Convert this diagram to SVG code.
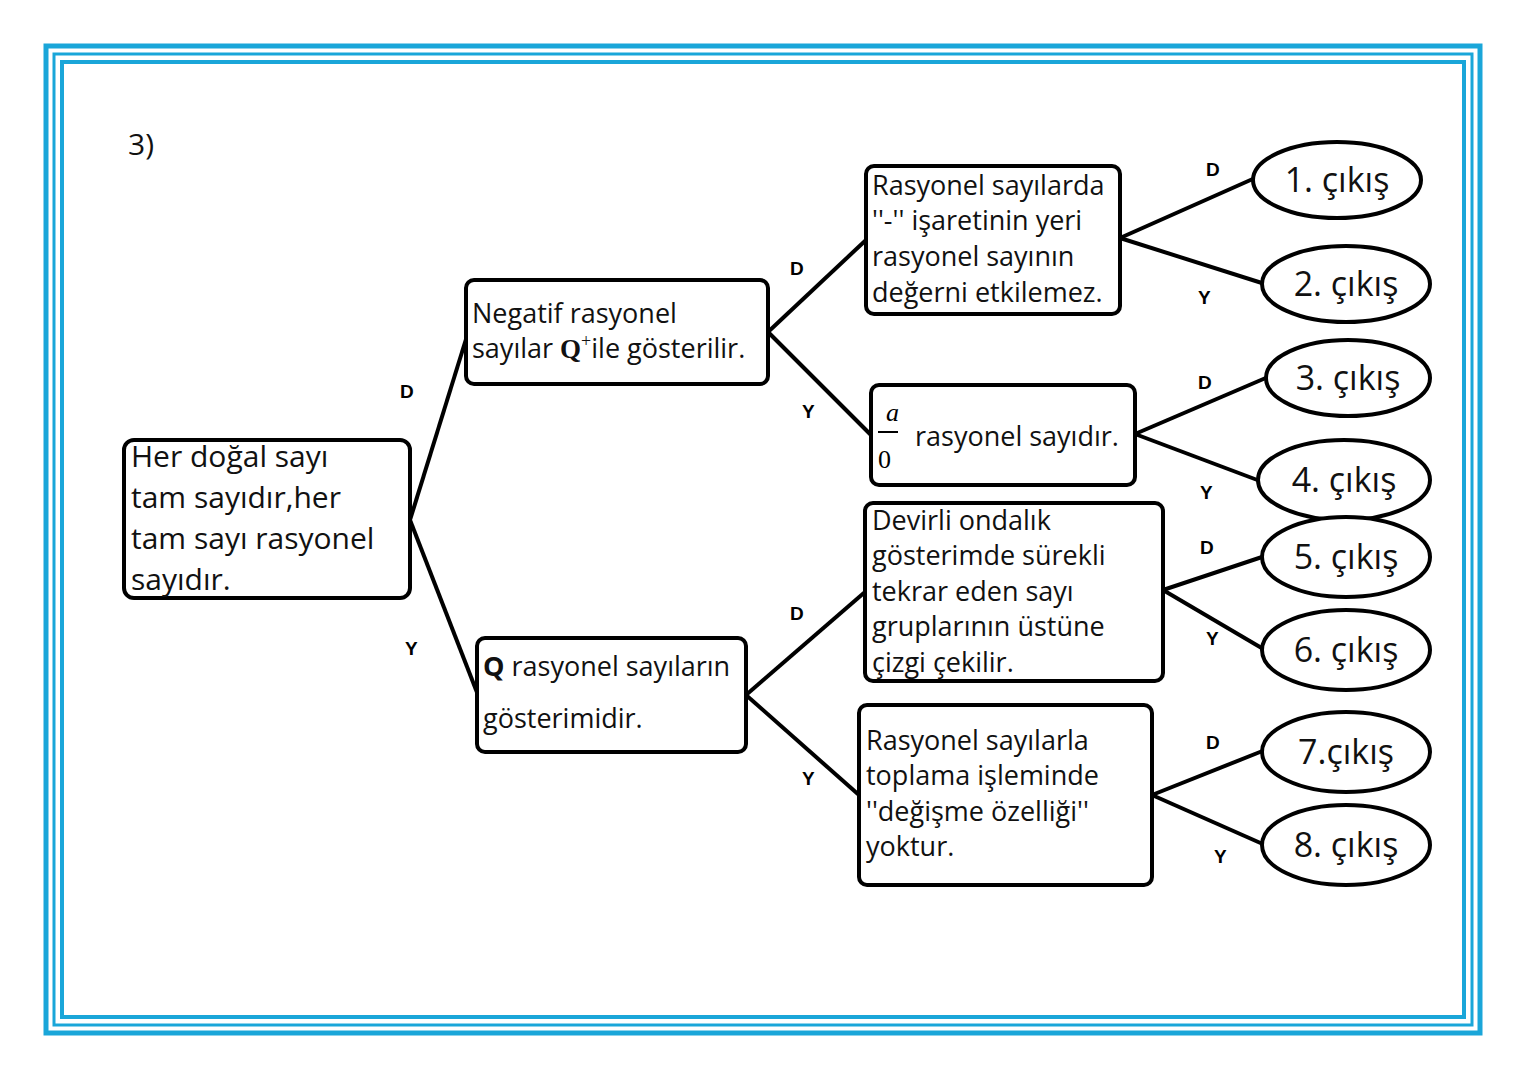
<svg xmlns="http://www.w3.org/2000/svg" width="1527" height="1080" viewBox="0 0 1527 1080">
<style>
.b{fill:none;stroke:#1aa6d9}
.n{fill:#fff;stroke:#000;stroke-width:4}
.t{font-family:"Open Sans","Liberation Sans",sans-serif;font-size:27px;fill:#111}
.o{font-family:"Open Sans","Liberation Sans",sans-serif;font-size:34px;fill:#111}
.l{font-family:"Liberation Sans",sans-serif;font-size:19px;font-weight:bold;fill:#000}
.c line{stroke:#000;stroke-width:4}
</style>
<rect width="1527" height="1080" fill="#fff"/>
<rect class="b" x="46" y="46" width="1434" height="987" stroke-width="5"/>
<rect class="b" x="54" y="54" width="1418" height="971" stroke-width="3"/>
<rect class="b" x="62" y="62" width="1402" height="955" stroke-width="4"/>
<text x="128" y="155" class="o" style="font-size:30px">3)</text>
<g class="c" id="connectors">
<line x1="410" y1="520" x2="467" y2="336"/>
<line x1="410" y1="520" x2="478" y2="695"/>
<line x1="768" y1="332" x2="866" y2="240"/>
<line x1="768" y1="332" x2="871" y2="435"/>
<line x1="746" y1="695" x2="865" y2="592"/>
<line x1="746" y1="695" x2="859" y2="795"/>
<line x1="1120" y1="238" x2="1255" y2="178"/>
<line x1="1120" y1="238" x2="1265" y2="284"/>
<line x1="1135" y1="434" x2="1268" y2="377"/>
<line x1="1135" y1="434" x2="1260" y2="481"/>
<line x1="1163" y1="590" x2="1265" y2="556"/>
<line x1="1163" y1="590" x2="1265" y2="650"/>
<line x1="1152" y1="795" x2="1265" y2="750"/>
<line x1="1152" y1="795" x2="1265" y2="845"/>
</g>
<g id="labels">
<text x="400" y="398" class="l">D</text><text x="405" y="655" class="l">Y</text>
<text x="790" y="275" class="l">D</text><text x="802" y="418" class="l">Y</text>
<text x="790" y="620" class="l">D</text><text x="802" y="785" class="l">Y</text>
<text x="1206" y="176" class="l">D</text><text x="1198" y="304" class="l">Y</text>
<text x="1198" y="389" class="l">D</text><text x="1200" y="499" class="l">Y</text>
<text x="1200" y="554" class="l">D</text><text x="1206" y="645" class="l">Y</text>
<text x="1206" y="749" class="l">D</text><text x="1214" y="863" class="l">Y</text>
</g>
<g id="root"><rect class="n" x="124" y="440" width="286" height="158" rx="10"/>
<text class="t" style="font-size:30px"><tspan x="131" y="467">Her doğal sayı</tspan><tspan x="131" y="508">tam sayıdır,her</tspan><tspan x="131" y="549">tam sayı rasyonel</tspan><tspan x="131" y="590">sayıdır.</tspan></text></g>
<g id="n1"><rect class="n" x="466" y="280" width="302" height="104" rx="8"/>
<text class="t"><tspan x="472" y="323">Negatif rasyonel</tspan><tspan x="472" y="358">sayılar <tspan font-family="Liberation Serif,serif" font-weight="bold">Q</tspan><tspan font-family="Liberation Serif,serif" font-size="18" dy="-11">+</tspan><tspan dy="11">ile gösterilir.</tspan></tspan></text></g>
<g id="n2"><rect class="n" x="477" y="638" width="269" height="114" rx="8"/>
<text class="t"><tspan x="483" y="676"><tspan font-weight="bold">Q</tspan> rasyonel sayıların</tspan><tspan x="483" y="728">gösterimidir.</tspan></text></g>
<g id="n3"><rect class="n" x="866" y="166" width="254" height="148" rx="8"/>
<text class="t"><tspan x="872" y="195">Rasyonel sayılarda</tspan><tspan x="872" y="230">''-'' işaretinin yeri</tspan><tspan x="872" y="266">rasyonel sayının</tspan><tspan x="872" y="302">değerni etkilemez.</tspan></text></g>
<g id="n4"><rect class="n" x="871" y="385" width="264" height="100" rx="8"/>
<text x="886" y="421" font-family="Liberation Serif,serif" font-style="italic" font-size="26">a</text>
<line x1="878" y1="432" x2="898" y2="432" stroke="#000" stroke-width="2"/>
<text x="878" y="468" font-family="Liberation Serif,serif" font-size="26">0</text>
<text x="915" y="446" class="t">rasyonel sayıdır.</text></g>
<g id="n5"><rect class="n" x="865" y="503" width="298" height="178" rx="8"/>
<text class="t"><tspan x="872" y="530">Devirli ondalık</tspan><tspan x="872" y="565">gösterimde sürekli</tspan><tspan x="872" y="601">tekrar eden sayı</tspan><tspan x="872" y="636">gruplarının üstüne</tspan><tspan x="872" y="672">çizgi çekilir.</tspan></text></g>
<g id="n6"><rect class="n" x="859" y="705" width="293" height="180" rx="8"/>
<text class="t"><tspan x="866" y="750">Rasyonel sayılarla</tspan><tspan x="866" y="785">toplama işleminde</tspan><tspan x="866" y="821">''değişme özelliği''</tspan><tspan x="866" y="856">yoktur.</tspan></text></g>
<g id="o1"><ellipse class="n" cx="1337" cy="180" rx="84" ry="38"/><text x="1337" y="192" class="o" text-anchor="middle">1. çıkış</text></g>
<g id="o2"><ellipse class="n" cx="1346" cy="284" rx="84" ry="38"/><text x="1346" y="296" class="o" text-anchor="middle">2. çıkış</text></g>
<g id="o3"><ellipse class="n" cx="1348" cy="378" rx="82" ry="38"/><text x="1348" y="390" class="o" text-anchor="middle">3. çıkış</text></g>
<g id="o4"><ellipse class="n" cx="1344" cy="480" rx="86" ry="40"/><text x="1344" y="492" class="o" text-anchor="middle">4. çıkış</text></g>
<g id="o5"><ellipse class="n" cx="1346" cy="557" rx="84" ry="40"/><text x="1346" y="569" class="o" text-anchor="middle">5. çıkış</text></g>
<g id="o6"><ellipse class="n" cx="1346" cy="650" rx="84" ry="40"/><text x="1346" y="662" class="o" text-anchor="middle">6. çıkış</text></g>
<g id="o7"><ellipse class="n" cx="1346" cy="752" rx="84" ry="40"/><text x="1346" y="764" class="o" text-anchor="middle">7.çıkış</text></g>
<g id="o8"><ellipse class="n" cx="1346" cy="845" rx="84" ry="40"/><text x="1346" y="857" class="o" text-anchor="middle">8. çıkış</text></g>
</svg>
